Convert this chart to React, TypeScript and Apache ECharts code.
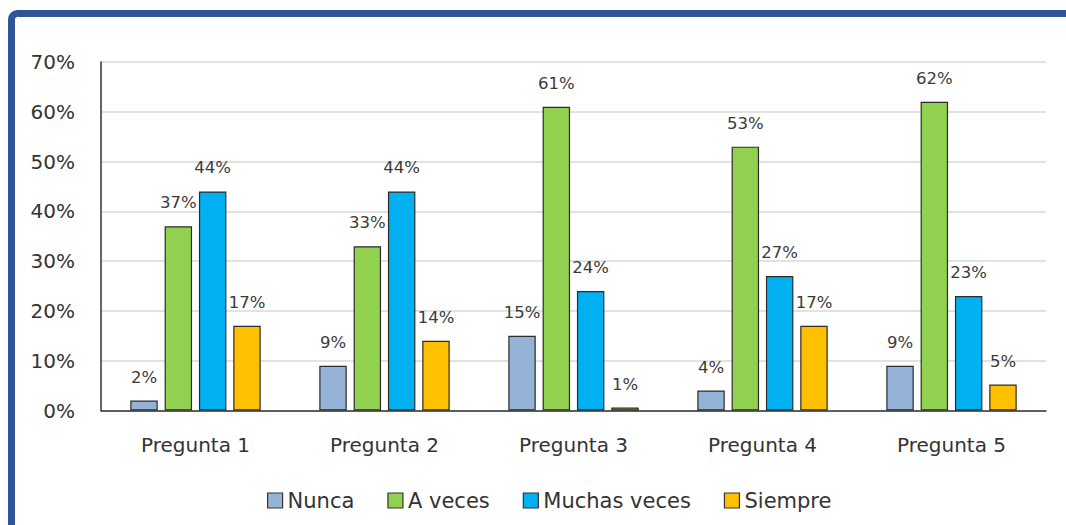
import React, { useEffect, useRef } from "react";
import * as echarts from "echarts";

const categories = ["Pregunta 1", "Pregunta 2", "Pregunta 3", "Pregunta 4", "Pregunta 5"];
const seriesNames = ["Nunca", "A veces", "Muchas veces", "Siempre"];
const nunca = [2, 9, 15, 4, 9];
const aVeces = [37, 33, 61, 53, 62];
const muchasVeces = [44, 44, 24, 27, 23];
const siempre = [17, 14, 0.6, 17, 5.2];
const colors = ["#95B3D7", "#92D050", "#00B0F0", "#FFC000"];
const yTicks = [0, 10, 20, 30, 40, 50, 60, 70];

export default function App() {
  const ref = useRef<HTMLDivElement>(null);
  useEffect(() => {
    document.body.style.margin = "0";
    const chart = echarts.init(ref.current!, null, { renderer: "svg" });
    const font = "'DejaVu Sans', 'Noto Sans', sans-serif";
    const data = [nunca, aVeces, muchasVeces, siempre];
    chart.setOption({
      animation: false,
      backgroundColor: "#ffffff",
      textStyle: { fontFamily: font },
      grid: { left: 101, top: 62, right: 20, bottom: 114.5, containLabel: false },
      legend: {
        top: 485,
        left: 262,
        itemWidth: 15,
        itemHeight: 15,
        itemGap: 33,
        icon: "rect",
        textStyle: { fontSize: 21, color: "#333", fontFamily: font },
        data: seriesNames.map((n, i) => ({
          name: n,
          itemStyle: { color: colors[i], borderColor: "#333", borderWidth: 1.2 },
        })),
      },
      xAxis: {
        type: "category",
        data: categories,
        axisLine: { lineStyle: { color: "#333", width: 1.5 } },
        axisTick: { show: false },
        axisLabel: { fontSize: 20, color: "#333", margin: 24, fontFamily: font },
      },
      yAxis: {
        type: "value",
        min: yTicks[0],
        max: yTicks[yTicks.length - 1],
        interval: 10,
        axisLine: { show: true, lineStyle: { color: "#333", width: 1.5 } },
        axisTick: { show: false },
        splitLine: { lineStyle: { color: "#d9d9d9", width: 1.5 } },
        axisLabel: {
          fontSize: 20,
          color: "#333",
          margin: 26,
          fontFamily: font,
          formatter: (v: number) => v + "%",
        },
      },
      series: seriesNames.map((name, i) => ({
        name,
        type: "bar",
        data: data[i],
        barGap: "25%",
        barCategoryGap: "31%",
        itemStyle: { color: colors[i], borderColor: "#2b2b2b", borderWidth: 1.2 },
        label: {
          show: true,
          position: "top",
          distance: 15,
          fontSize: 16.5,
          color: "#3a3a3a",
          fontFamily: font,
          formatter: (p: any) => Math.round(p.value) + "%",
        },
      })),
      graphic: [
        {
          type: "rect",
          shape: { x: 11.5, y: 13.5, width: 1200, height: 700, r: [6, 0, 0, 0] },
          style: { fill: "none", stroke: "#2F5597", lineWidth: 7 },
          z: 100,
        },
      ],
    });
    return () => chart.dispose();
  }, []);
  return <div ref={ref} style={{ width: 1066, height: 525 }} />;
}
